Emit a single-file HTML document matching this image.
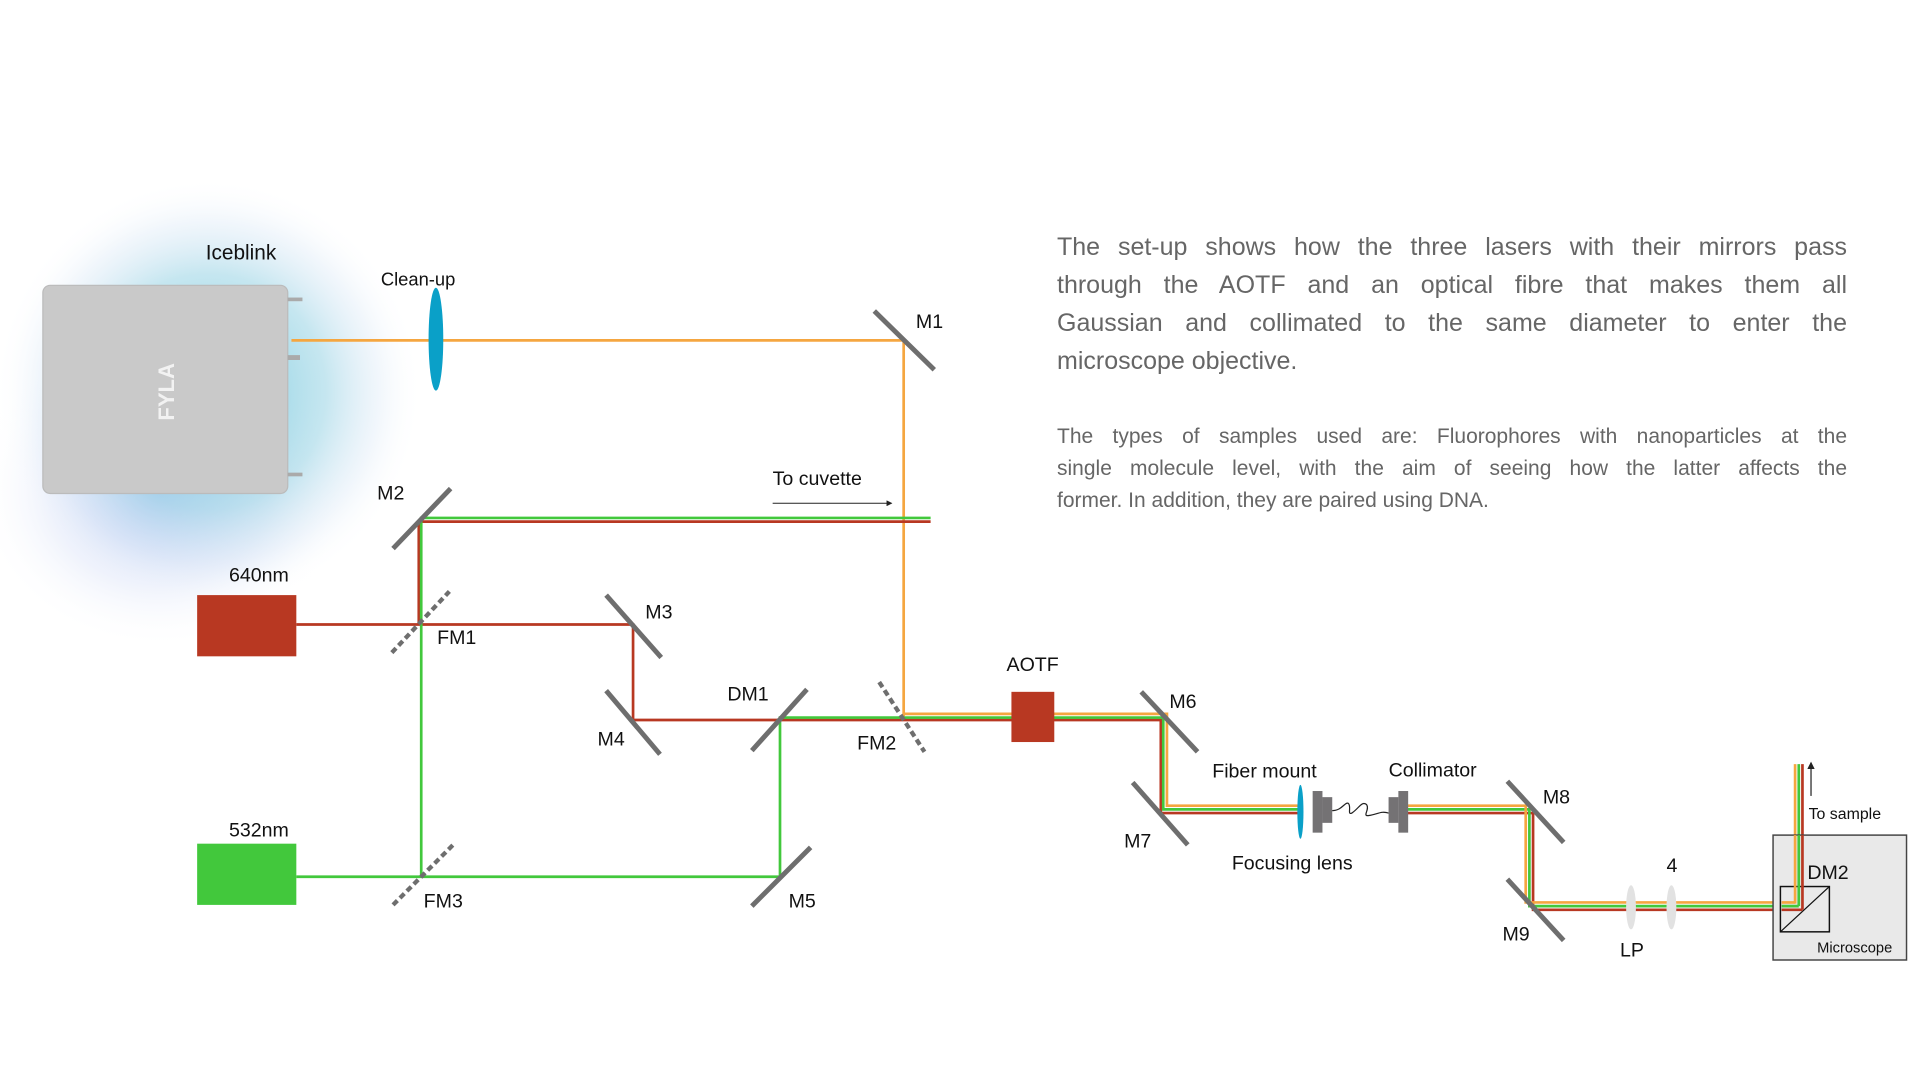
<!DOCTYPE html>
<html><head><meta charset="utf-8"><style>
html,body{margin:0;padding:0;background:#fff;width:1920px;height:1080px;overflow:hidden;position:relative}
svg{display:block;position:absolute;left:0;top:0}
text{font-family:"Liberation Sans",sans-serif}
.p{position:absolute;left:1057px;width:790px;font-family:"Liberation Sans",sans-serif;color:#666}
.p div{text-align:justify;text-align-last:justify;white-space:nowrap;overflow:visible}
.p div.l{text-align-last:left}
.p1{top:228px;font-size:25px;line-height:38px}
.p1 div{height:38px}
.p2{top:421px;font-size:21px;line-height:32px}
.p2 div{height:32px}
.p div span{display:block;white-space:normal}
</style></head><body>
<svg width="1920" height="1080" viewBox="0 0 1568 882" preserveAspectRatio="none" xmlns="http://www.w3.org/2000/svg">
<defs>
<radialGradient id="glow" cx="0.5" cy="0.5" r="0.5">
<stop offset="0" stop-color="#6cc6dc" stop-opacity="0.95"/>
<stop offset="0.55" stop-color="#9fd6e6" stop-opacity="0.6"/>
<stop offset="0.8" stop-color="#c9def2" stop-opacity="0.25"/>
<stop offset="1" stop-color="#ffffff" stop-opacity="0"/>
</radialGradient>
<radialGradient id="glow2" cx="0.5" cy="0.5" r="0.5">
<stop offset="0" stop-color="#9ab4ee" stop-opacity="0.7"/>
<stop offset="0.6" stop-color="#c8d4f4" stop-opacity="0.3"/>
<stop offset="1" stop-color="#ffffff" stop-opacity="0"/>
</radialGradient>
<marker id="ah" markerWidth="6" markerHeight="6" refX="5" refY="3" orient="auto"><path d="M0,0 L6,3 L0,6 z" fill="#222"/></marker>
</defs>
<rect width="1568" height="882" fill="#fff"/>
<ellipse cx="130" cy="400" rx="150" ry="130" fill="url(#glow2)"/>
<ellipse cx="170" cy="320" rx="175" ry="175" fill="url(#glow)"/>
<rect x="35" y="233" width="200" height="170" rx="6" fill="#c9c9c9" stroke="#bbb"/>
<rect x="235" y="243" width="12" height="3" fill="#aaa"/><rect x="235" y="290" width="10" height="4" fill="#aaa"/>
<rect x="235" y="386" width="12" height="3" fill="#aaa"/>
<text x="0" y="0" transform="translate(142,320) rotate(-90)" text-anchor="middle" font-size="18" font-weight="bold" fill="#f2f2f2">FYLA</text>
<text x="168" y="212" font-size="17" fill="#111">Iceblink</text>

<g stroke="#f5a640" stroke-width="2.2" fill="none">
<path d="M238 278 H738 V585"/>
</g>
<ellipse cx="356" cy="277" rx="6" ry="42" fill="#0aa0c8"/>
<text x="311" y="233" font-size="15" fill="#111">Clean-up</text>

<g stroke="#b83822" stroke-width="2.2" fill="none">
<path d="M242 510 H517 V588 H948 V664 H1062"/>
<path d="M342 510 V426 H760"/>
<path d="M1149 664 H1252 V743 H1472 V624"/>
</g>
<g stroke="#42c83c" stroke-width="2.2" fill="none">
<path d="M242 716 H637 V586 H950 V661 H1062"/>
<path d="M344 716 V423 H760"/>
<path d="M1149 661 H1249 V740 H1469 V624"/>
</g>
<g stroke="#f5a640" stroke-width="2.2" fill="none">
<path d="M738 583 H953 V658 H1062"/>
<path d="M1149 658 H1246 V737 H1466 V624"/>
</g>

<g stroke="#6e6e6e" stroke-width="4" fill="none">
<line x1="714" y1="254" x2="763" y2="302"/>
<line x1="321" y1="448" x2="368" y2="399"/>
<line x1="495" y1="486" x2="540" y2="537"/>
<line x1="495" y1="564" x2="539" y2="616"/>
<line x1="614" y1="740" x2="662" y2="692"/>
<line x1="614" y1="613" x2="659" y2="563"/>
<line x1="932" y1="565" x2="978" y2="614"/>
<line x1="925" y1="639" x2="970" y2="690"/>
<line x1="1231" y1="638" x2="1277" y2="688"/>
<line x1="1231" y1="718" x2="1277" y2="768"/>
</g>
<g stroke="#6e6e6e" stroke-width="3.5" stroke-dasharray="5,3" fill="none">
<line x1="320" y1="533" x2="367" y2="483"/>
<line x1="321" y1="739" x2="370" y2="690"/>
<line x1="718" y1="557" x2="755" y2="614"/>
</g>

<rect x="161" y="486" width="81" height="50" fill="#b83822"/>
<rect x="161" y="689" width="81" height="50" fill="#42c83c"/>
<rect x="826" y="565" width="35" height="41" fill="#b83822"/>

<ellipse cx="1062" cy="663" rx="2.5" ry="22" fill="#0aa0c8"/>
<rect x="1072" y="646" width="8" height="34" fill="#747274"/>
<rect x="1080" y="651" width="8" height="21" fill="#747274"/>
<path d="M1088 662 C1096 662,1098 655,1101 656 C1104 658,1100 666,1104 664 C1110 660,1112 654,1116 657 C1119 661,1112 667,1118 666 C1125 665,1128 662,1134 664" stroke="#222" stroke-width="1" fill="none"/>
<rect x="1134" y="651" width="8" height="21" fill="#747274"/>
<rect x="1142" y="646" width="8" height="34" fill="#747274"/>

<ellipse cx="1332" cy="741" rx="4" ry="18" fill="#e2e2e2"/>
<ellipse cx="1365" cy="741" rx="4" ry="18" fill="#e2e2e2"/>

<rect x="1448" y="682" width="109" height="102" fill="#e9e9e9" stroke="#444" stroke-width="1.2"/>
<rect x="1454" y="724" width="40" height="37" fill="none" stroke="#111" stroke-width="1.2"/>
<line x1="1454" y1="761" x2="1494" y2="724" stroke="#111" stroke-width="1"/>
<g stroke="#b83822" stroke-width="2.2"><line x1="1455" y1="743" x2="1472" y2="743"/><line x1="1472" y1="743" x2="1472" y2="682"/></g>
<g stroke="#42c83c" stroke-width="2.2"><line x1="1455" y1="740" x2="1469" y2="740"/><line x1="1469" y1="740" x2="1469" y2="682"/></g>
<g stroke="#f5a640" stroke-width="2.2"><line x1="1455" y1="737" x2="1466" y2="737"/><line x1="1466" y1="738" x2="1466" y2="682"/></g>
<line x1="1479" y1="650" x2="1479" y2="623" stroke="#222" stroke-width="1" marker-end="url(#ah)"/>

<line x1="631" y1="411" x2="728" y2="411" stroke="#222" stroke-width="0.8" marker-end="url(#ah)"/>

<g font-size="16" fill="#111">
<text x="748" y="268">M1</text>
<text x="308" y="408">M2</text>
<text x="187" y="475">640nm</text>
<text x="357" y="526">FM1</text>
<text x="527" y="505">M3</text>
<text x="488" y="609">M4</text>
<text x="594" y="572">DM1</text>
<text x="700" y="612">FM2</text>
<text x="187" y="683">532nm</text>
<text x="346" y="741">FM3</text>
<text x="644" y="741">M5</text>
<text x="631" y="396">To cuvette</text>
<text x="822" y="548">AOTF</text>
<text x="955" y="578">M6</text>
<text x="918" y="692">M7</text>
<text x="990" y="635">Fiber mount</text>
<text x="1134" y="634">Collimator</text>
<text x="1006" y="710">Focusing lens</text>
<text x="1260" y="656">M8</text>
<text x="1227" y="768">M9</text>
<text x="1323" y="781">LP</text>
<text x="1361" y="712">4</text>
<text x="1476" y="718">DM2</text>
</g>
<text x="1477" y="669" font-size="13" fill="#111">To sample</text>
<text x="1484" y="778" font-size="12" fill="#111">Microscope</text>
</svg>
<div class="p p1">
<div><span>The set-up shows how the three lasers with their mirrors pass</span></div>
<div><span>through the AOTF and an optical fibre that makes them all</span></div>
<div><span>Gaussian and collimated to the same diameter to enter the</span></div>
<div class="l"><span>microscope objective.</span></div>
</div>
<div class="p p2">
<div><span>The types of samples used are: Fluorophores with nanoparticles at the</span></div>
<div><span>single molecule level, with the aim of seeing how the latter affects the</span></div>
<div class="l"><span>former. In addition, they are paired using DNA.</span></div>
</div>
</body></html>
